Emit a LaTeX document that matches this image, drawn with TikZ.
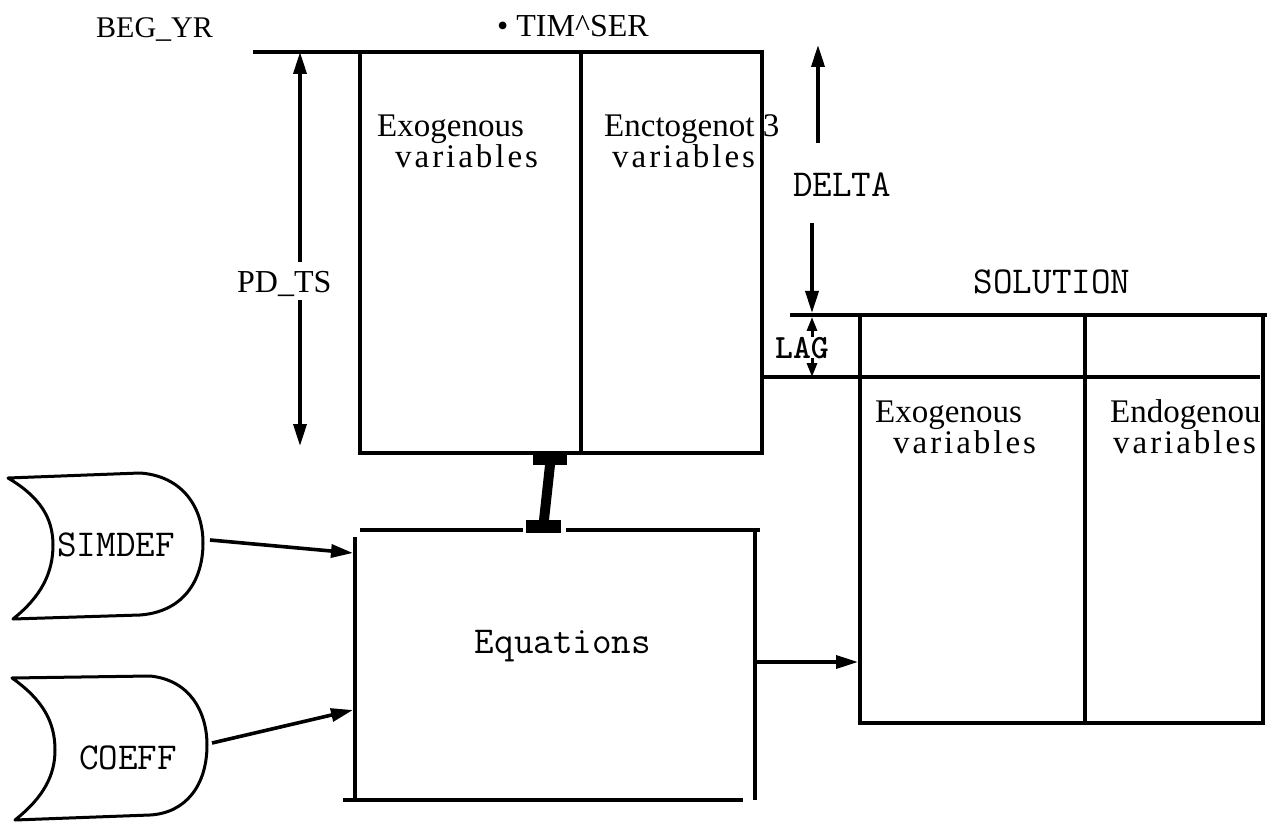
\documentclass[tikz,border=0pt]{standalone}
\usepackage{fontspec}
\setmainfont{Liberation Serif}
\newfontfamily\spacedserif[LetterSpace=9]{Liberation Serif}
\usetikzlibrary{arrows.meta}
\begin{document}
\begin{tikzpicture}[x=1pt,y=-1pt,
  boxline/.style={line width=4.6pt},
  divline/.style={line width=3.4pt},
  shapeline/.style={line width=3pt, line join=round},
  arr/.style={line width=3.6pt, -{Triangle[length=22pt,width=13pt]}},
  smallarr/.style={line width=3pt, -{Triangle[length=14pt,width=10pt]}},
  serif/.style={inner sep=0pt, anchor=base west, font=\fontsize{33}{36}\selectfont},
  spaced/.style={inner sep=0pt, anchor=base west, font=\fontsize{33}{36}\selectfont\spacedserif},
  mono/.style={inner sep=0pt, anchor=center, font=\fontsize{38}{40}\selectfont\ttfamily}
]
\useasboundingbox (0,0) rectangle (1272,826);

% ---------- TIM^SER box ----------
\coordinate (tsTL) at (360,52);
\coordinate (tsTR) at (762,52);
\coordinate (tsBL) at (360,453);
\coordinate (tsBR) at (762,453);
\coordinate (tsTD) at (581,52);
\coordinate (tsBD) at (581,453);
\coordinate (begline) at (253,52);
\draw[boxline] (begline) -- (tsTR) -- (tsBR) -- (tsBL) -- (tsTL);
\draw[divline] (tsTD) -- (tsBD);

\node[serif, font=\fontsize{30}{32}\selectfont] (begyr) at (96,38) {BEG\_YR};
\node[serif, font=\fontsize{32}{34}\selectfont] (timser) at (497,37) {\textbullet\ TIM\^{}SER};
\node[serif] (exo1) at (377,137) {Exogenous};
\node[spaced] (var1) at (395,168) {variables};
\node[serif] (endo1) at (604,137) {Enctogenot 3};
\node[spaced] (var1b) at (612,168) {variables};

% PD_TS dimension arrow
\node[serif, font=\fontsize{32}{34}\selectfont] (pdts) at (237,293) {PD\_TS};
\coordinate (pdUp) at (300,262);
\coordinate (pdUpTip) at (300,52);
\coordinate (pdDn) at (300,300);
\coordinate (pdDnTip) at (300,446);
\draw[arr] (pdUp) -- (pdUpTip);
\draw[arr] (pdDn) -- (pdDnTip);

% DELTA dimension arrow
\node[mono] (delta) at (842,185) {DELTA};
\coordinate (dUp) at (818,143);
\coordinate (dUpTip) at (818,45);
\coordinate (dDn) at (812,223);
\coordinate (dDnTip) at (812,313);
\draw[arr] (dUp) -- (dUpTip);
\draw[arr] (dDn) -- (dDnTip);

% ---------- SOLUTION box ----------
\node[mono] (solution) at (1052,282) {SOLUTION};
\coordinate (soTop0) at (790,315);
\coordinate (soTL) at (860,315);
\coordinate (soTR) at (1263,315);
\coordinate (soTop1) at (1267,315);
\coordinate (soBL) at (860,723);
\coordinate (soBR) at (1263,723);
\coordinate (soTD) at (1085,315);
\coordinate (soBD) at (1085,723);
\coordinate (lag0) at (763,377);
\coordinate (lag1) at (1260,377);

\node[serif] (exo2) at (875,422) {Exogenous};
\node[spaced] (var2) at (893,453) {variables};
\begin{scope}
  \clip (1090,380) rectangle (1262,470);
  \node[serif] (endo2) at (1110,422) {Endogenous};
\end{scope}
\node[spaced] (var2b) at (1113,453) {variables};

\draw[boxline] (soTop0) -- (soTop1);
\draw[boxline] (soTL) -- (soBL) -- (soBR) -- (soTR);
\draw[divline] (soTD) -- (soBD);
\draw[boxline] (lag0) -- (lag1);

% LAG arrows
\node[mono, font=\fontsize{34}{36}\selectfont\ttfamily\bfseries] (lag) at (802,348) {LAG};
\coordinate (lagUp) at (812,337);
\coordinate (lagUpTip) at (812,317);
\coordinate (lagDn) at (812,358);
\coordinate (lagDnTip) at (812,377);
\draw[smallarr] (lagUp) -- (lagUpTip);
\draw[smallarr] (lagDn) -- (lagDnTip);

% ---------- Equations box ----------
\coordinate (eqT0) at (360,530);
\coordinate (eqT1) at (523,530);
\coordinate (eqT2) at (566,530);
\coordinate (eqT3) at (760,530);
\coordinate (eqLT) at (355,537);
\coordinate (eqLB) at (355,800);
\coordinate (eqRT) at (755,528);
\coordinate (eqRB) at (755,800);
\coordinate (eqB0) at (343,800);
\coordinate (eqB1) at (743,800);
\draw[boxline] (eqT0) -- (eqT1);
\draw[boxline] (eqT2) -- (eqT3);
\draw[boxline] (eqLT) -- (eqLB);
\draw[boxline] (eqRT) -- (eqRB);
\draw[boxline] (eqB0) -- (eqB1);
\node[mono] (equations) at (563,646) {Equations};

% I-beam link between TIM^SER and Equations
\fill (533,453) rectangle (567,465);
\fill (545,465) -- (555,465) -- (549,520) -- (539,520) -- cycle;
\fill (526,520) rectangle (561,533);

% ---------- SIMDEF stored data ----------
\draw[shapeline] (8,478) -- (140,473) .. controls (183,476) and (203,508) .. (203,543)
  .. controls (203,582) and (182,612) .. (140,615) -- (13,619)
  .. controls (42,596) and (53,572) .. (53,545)
  .. controls (53,518) and (40,497) .. (8,478) -- cycle;
\node[mono] (simdef) at (116,545) {SIMDEF};

% ---------- COEFF stored data ----------
\draw[shapeline] (12,678) -- (150,676) .. controls (190,680) and (207,712) .. (207,745)
  .. controls (207,785) and (186,813) .. (150,815) -- (15,820)
  .. controls (44,797) and (55,775) .. (55,750)
  .. controls (55,722) and (43,700) .. (12,678) -- cycle;
\node[mono] (coeff) at (128,758) {COEFF};

% ---------- connectors ----------
\coordinate (simdefOut) at (210,540);
\coordinate (eqIn1) at (353,553);
\coordinate (coeffOut) at (212,743);
\coordinate (eqIn2) at (353,710);
\coordinate (eqOut) at (755,662);
\coordinate (soIn) at (858,662);
\draw[arr] (simdefOut) -- (eqIn1);
\draw[arr] (coeffOut) -- (eqIn2);
\draw[arr] (eqOut) -- (soIn);
\end{tikzpicture}
\end{document}
